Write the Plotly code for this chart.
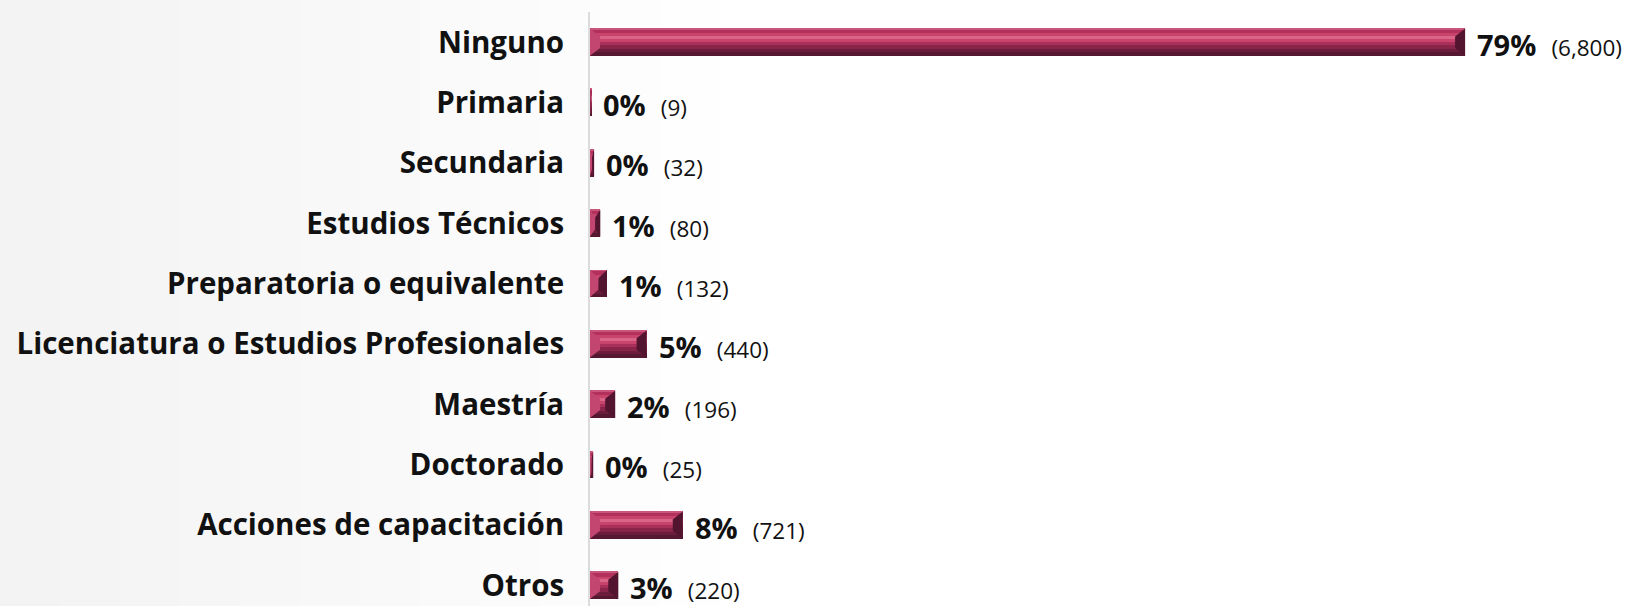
import plotly.graph_objects as go

# Nivel de estudios / formación
categories = [
    "Ninguno",
    "Primaria",
    "Secundaria",
    "Estudios Técnicos",
    "Preparatoria o equivalente",
    "Licenciatura o Estudios Profesionales",
    "Maestría",
    "Doctorado",
    "Acciones de capacitación",
    "Otros",
]
counts = [6800, 9, 32, 80, 132, 440, 196, 25, 721, 220]
percent_labels = ["79%", "0%", "0%", "1%", "1%", "5%", "2%", "0%", "8%", "3%"]

FONT = "Open Sans"
positions = list(range(len(categories)))

W, H = 1626, 606
M_LEFT, M_TOP = 590, 12
BAR_W = 0.45          # bar thickness in category units
X_MAX = 8050          # right end of the value axis
BEVEL_X = 78          # horizontal size of the end facets (value units)
BEVEL_Y = 0.13        # vertical inset of the end facets (category units)

# horizontal bands that give the bars their glossy, bevelled look (top -> bottom)
bands = [
    (0.05, "#c9557a"),
    (0.12, "#b32f5c"),
    (0.10, "#c8446d"),
    (0.12, "#db6489"),
    (0.10, "#c8446d"),
    (0.12, "#a9305a"),
    (0.13, "#8a2549"),
    (0.13, "#6d1d3c"),
    (0.13, "#561731"),
]

fig = go.Figure()

start = -BAR_W / 2
for frac, color in bands:
    h = frac * BAR_W
    fig.add_trace(go.Bar(
        x=counts, y=positions, orientation="h",
        width=h, offset=start,
        marker=dict(color=color, line=dict(width=0)),
        showlegend=False, hoverinfo="skip",
    ))
    start += h

# bevelled end facets of each bar
left_x, left_y, right_x, right_y = [], [], [], []
for v, p in zip(counts, positions):
    b = min(BEVEL_X, v / 2)
    top, bot = p - BAR_W / 2, p + BAR_W / 2
    left_x += [0, b, b, 0, 0, None]
    left_y += [top, top + BEVEL_Y, bot - BEVEL_Y, bot, top, None]
    right_x += [v, v - b, v - b, v, v, None]
    right_y += [top, top + BEVEL_Y, bot - BEVEL_Y, bot, top, None]

fig.add_trace(go.Scatter(
    x=left_x, y=left_y, mode="lines", fill="toself",
    fillcolor="#c24670", line=dict(width=0),
    showlegend=False, hoverinfo="skip",
))
fig.add_trace(go.Scatter(
    x=right_x, y=right_y, mode="lines", fill="toself",
    fillcolor="#531430", line=dict(width=0),
    showlegend=False, hoverinfo="skip",
))

# value labels: bold percentage followed by the count
for v, p, pct in zip(counts, positions, percent_labels):
    fig.add_annotation(
        x=v, y=p, xref="x", yref="y",
        xanchor="left", yanchor="middle", xshift=10, yshift=-2,
        showarrow=False,
        text=f"<b>{pct}</b>  <span style='font-size:22.5px'>({v:,})</span>",
        font=dict(family=FONT, size=29, color="#111111"),
    )

# very soft warm tint fading out towards the right of the page
plot_w = W - M_LEFT
plot_h = H - M_TOP
x_left = -M_LEFT / plot_w
y_top = 1 + M_TOP / plot_h
for i in range(12):
    fig.add_shape(
        type="rect", xref="paper", yref="paper", layer="below",
        x0=x_left, x1=x_left + (i + 1) * 60 / plot_w,
        y0=0, y1=y_top,
        fillcolor="rgba(245,238,226,0.05)", line=dict(width=0),
    )

fig.update_layout(
    width=W, height=H,
    margin=dict(l=M_LEFT, r=0, t=M_TOP, b=0),
    paper_bgcolor="#ffffff",
    plot_bgcolor="rgba(0,0,0,0)",
    barmode="overlay",
    bargap=0,
    showlegend=False,
    xaxis=dict(
        range=[0, X_MAX], visible=False, fixedrange=True,
    ),
    yaxis=dict(
        range=[9.34, -0.5],
        tickmode="array", tickvals=positions, ticktext=categories,
        showgrid=False, zeroline=False,
        showline=True, linecolor="#dcdcdc", linewidth=2,
        ticks="", ticklabelstandoff=18,
        tickfont=dict(family=FONT, size=29.5, color="#111111", weight="bold"),
        automargin=False,
    ),
)

fig.write_html("out.html")
